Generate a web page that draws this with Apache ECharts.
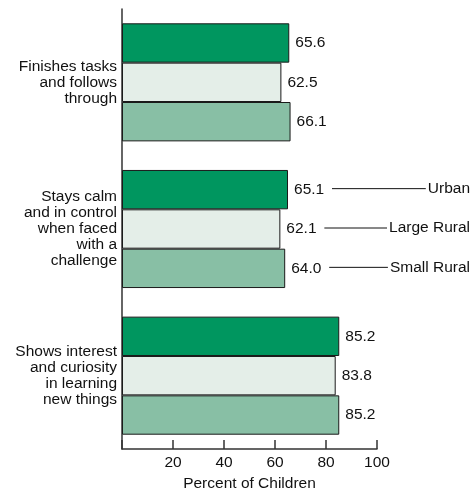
<!DOCTYPE html>
<html>
<head>
<meta charset="utf-8">
<script src="https://cdn.jsdelivr.net/npm/echarts@6/dist/echarts.min.js"></script>
<style>
html,body{margin:0;padding:0;background:#fff;}
#c{width:474px;height:490px;}
</style>
</head>
<body>
<div id="c"></div>
<script>
const categories = [
  "Finishes tasks\nand follows\nthrough",
  "Stays calm\nand in control\nwhen faced\nwith a\nchallenge",
  "Shows interest\nand curiosity\nin learning\nnew things"
];
const seriesNames = ["Urban", "Large Rural", "Small Rural"];
const urban = [65.6, 65.1, 85.2];
const largeRural = [62.5, 62.1, 83.8];
const smallRural = [66.1, 64.0, 85.2];
const xTicks = [0, 20, 40, 60, 80, 100];
const colors = ["#00965f", "#e4eee8", "#88bfa5"];

const FONT = "'Liberation Sans', Arial, Helvetica, sans-serif";
const FS = 15.5;
const values = [urban, largeRural, smallRural];

const chart = echarts.init(document.getElementById('c'), null, {renderer: 'canvas'});

const option = {
  animation: false,
  backgroundColor: '#ffffff',
  textStyle: {fontFamily: FONT, color: '#111'},
  grid: {left: 122, right: 97, top: 9, bottom: 41, containLabel: false, outerBoundsMode: 'none'},
  xAxis: {
    type: 'value',
    min: xTicks[0],
    max: xTicks[xTicks.length - 1],
    interval: xTicks[1] - xTicks[0],
    name: 'Percent of Children',
    nameLocation: 'middle',
    nameGap: 25,
    nameTextStyle: {fontFamily: FONT, fontSize: FS, color: '#111'},
    axisLine: {show: true, lineStyle: {color: '#333', width: 1.5}},
    axisTick: {show: true, inside: true, length: 9, lineStyle: {color: '#333', width: 1.5}},
    axisLabel: {
      fontFamily: FONT, fontSize: FS, color: '#111', margin: 6,
      formatter: v => (v === 0 ? '' : String(v))
    },
    splitLine: {show: false}
  },
  yAxis: {
    type: 'category',
    data: categories,
    inverse: true,
    axisLine: {show: true, lineStyle: {color: '#333', width: 1.5}},
    axisTick: {show: false},
    axisLabel: {
      fontFamily: FONT, fontSize: FS, color: '#111', margin: 5,
      lineHeight: 16, align: 'right'
    }
  },
  series: seriesNames.map((name, i) => ({
    name: name,
    type: 'bar',
    data: values[i],
    barGap: '0%',
    barCategoryGap: '19.5%',
    itemStyle: {color: colors[i], borderColor: '#1a1a1a', borderWidth: 1},
    label: {
      show: true, position: 'right', distance: 6,
      fontFamily: FONT, fontSize: FS, color: '#111',
      formatter: p => p.value.toFixed(1)
    }
  }))
};
chart.setOption(option);

// Legend call-outs attached to the middle category's bars
const canvas = document.createElement('canvas');
const ctx = canvas.getContext('2d');
ctx.font = FS + "px " + FONT;
const rightEdge = 470;
const gfx = [];
seriesNames.forEach((name, i) => {
  const data = chart.getModel().getSeriesByIndex(i).getData();
  const lay = data.getItemLayout(1);
  const yc = lay.y + lay.height / 2 - 1;
  const xEnd = lay.x + lay.width;
  const tw = ctx.measureText(name).width;
  const textStart = rightEdge - tw;
  gfx.push({
    type: 'line',
    shape: {x1: xEnd + 44, y1: yc, x2: textStart - 2, y2: yc},
    style: {stroke: '#111', lineWidth: 1}
  });
  gfx.push({
    type: 'text',
    x: rightEdge, y: yc,
    style: {text: name, fontFamily: FONT, fontSize: FS, fill: '#111', align: 'right', verticalAlign: 'middle'}
  });
});
chart.setOption({graphic: gfx});
</script>
</body>
</html>
